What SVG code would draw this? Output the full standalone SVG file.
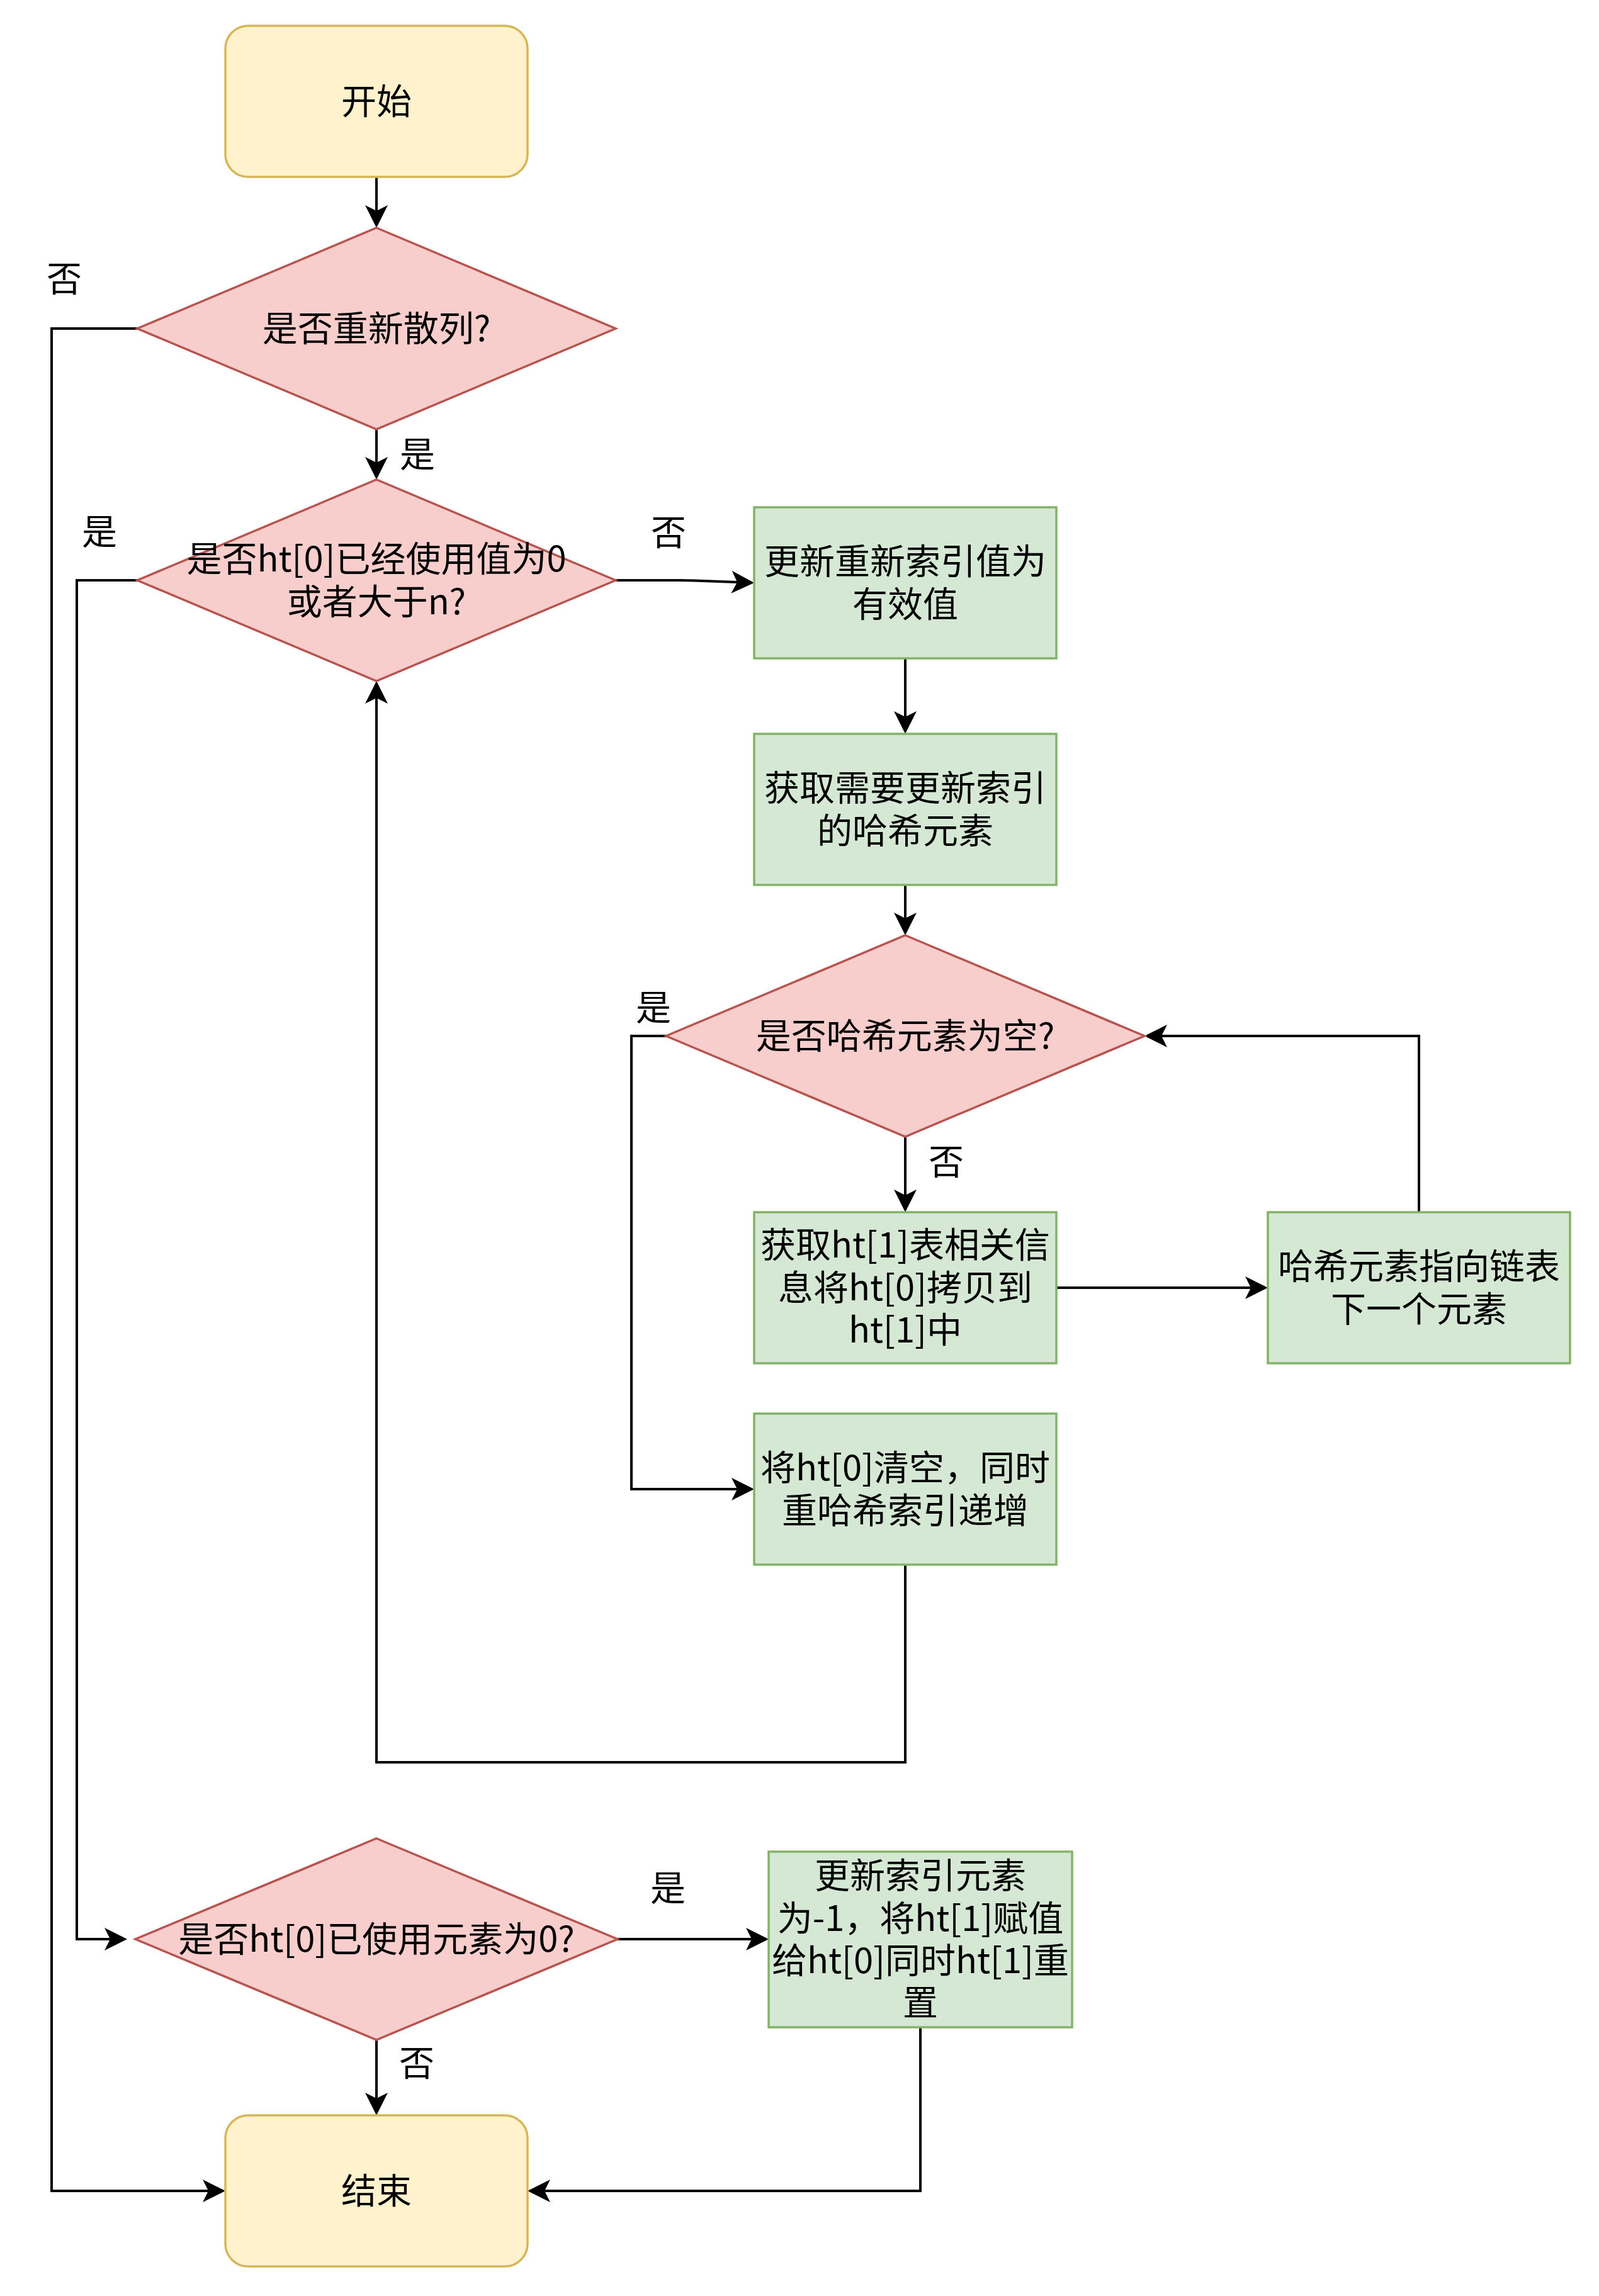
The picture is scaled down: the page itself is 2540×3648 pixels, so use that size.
<svg xmlns="http://www.w3.org/2000/svg" width="2540" height="3648" viewBox="0 0 2540 3648">
<style>
.term{fill:#fff2cc;stroke:#d6b656;stroke-width:3.5}
.dec{fill:#f8cecc;stroke:#b85450;stroke-width:3.5}
.proc{fill:#d5e8d4;stroke:#82b366;stroke-width:3.5}
.edge{fill:none;stroke:#000;stroke-width:4;stroke-linejoin:miter}
text{font-family:"Noto Sans CJK SC","Noto Sans",sans-serif;font-size:56px;fill:#000;text-anchor:middle;dominant-baseline:central}
</style>
<defs>
<marker id="arr" markerUnits="userSpaceOnUse" viewBox="-20 -20 44 40" refX="0" refY="0" markerWidth="44" markerHeight="40" orient="auto" overflow="visible">
<path d="M20,0 L-16,-18 L-7,0 L-16,18 Z" fill="#000"/>
</marker>
</defs>
<rect width="2540" height="3648" fill="#fff"/>
<g id="connectors">
<path class="edge" marker-end="url(#arr)" d="M598,281 L598,342"/>
<path class="edge" marker-end="url(#arr)" d="M598,682 L598,742"/>
<path class="edge" marker-end="url(#arr)" d="M218,522 L82,522 L82,3481 L338,3481"/>
<path class="edge" marker-end="url(#arr)" d="M218,922 L122,922 L122,3081 L182,3081"/>
<path class="edge" marker-end="url(#arr)" d="M978,922 L1080,922 Q1092,922 1104,922.6 L1178,925.2"/>
<path class="edge" marker-end="url(#arr)" d="M1438,1046 L1438,1146"/>
<path class="edge" marker-end="url(#arr)" d="M1438,1406 L1438,1466"/>
<path class="edge" marker-end="url(#arr)" d="M1438,1806 L1438,1906"/>
<path class="edge" marker-end="url(#arr)" d="M1058,1646 L1003,1646 L1003,2366 L1178,2366"/>
<path class="edge" marker-end="url(#arr)" d="M1678,2046 L1994,2046"/>
<path class="edge" marker-end="url(#arr)" d="M2254,1926 L2254,1646 L1838,1646"/>
<path class="edge" marker-end="url(#arr)" d="M1438,2486 L1438,2800 L598,2800 L598,1102"/>
<path class="edge" marker-end="url(#arr)" d="M981,3081 L1201,3081"/>
<path class="edge" marker-end="url(#arr)" d="M598,3241 L598,3341"/>
<path class="edge" marker-end="url(#arr)" d="M1462,3221 L1462,3481 L858,3481"/>
<text x="102" y="438">否</text>
<text x="663" y="717">是</text>
<text x="158" y="840">是</text>
<text x="1062" y="841">否</text>
<text x="1038" y="1596">是</text>
<text x="1503" y="1841">否</text>
<text x="1061" y="2995">是</text>
<text x="662" y="3273">否</text>
</g>
<g id="start">
<rect class="term" x="358" y="41" width="480" height="240" rx="36" ry="36"/>
<text x="598" y="156">开始</text>
</g>
<g id="d_rehash">
<polygon class="dec" points="598,362 978,522 598,682 218,522"/>
<text x="598" y="517">是否重新散列?</text>
</g>
<g id="d_used">
<polygon class="dec" points="598,762 978,922 598,1082 218,922"/>
<text x="598" y="883.4">是否ht[0]已经使用值为0<tspan x="598" dy="67.2">或者大于n?</tspan></text>
</g>
<g id="p_update_idx">
<rect class="proc" x="1198" y="806" width="480" height="240"/>
<text x="1438" y="887.4">更新重新索引值为<tspan x="1438" dy="67.2">有效值</tspan></text>
</g>
<g id="p_get_elem">
<rect class="proc" x="1198" y="1166" width="480" height="240"/>
<text x="1438" y="1247.4">获取需要更新索引<tspan x="1438" dy="67.2">的哈希元素</tspan></text>
</g>
<g id="d_empty">
<polygon class="dec" points="1438,1486 1818,1646 1438,1806 1058,1646"/>
<text x="1438" y="1641">是否哈希元素为空?</text>
</g>
<g id="p_copy">
<rect class="proc" x="1198" y="1926" width="480" height="240"/>
<text x="1438" y="1973.8">获取ht[1]表相关信<tspan x="1438" dy="67.2">息将ht[0]拷贝到</tspan><tspan x="1438" dy="67.2">ht[1]中</tspan></text>
</g>
<g id="p_next">
<rect class="proc" x="2014" y="1926" width="480" height="240"/>
<text x="2254" y="2007.4">哈希元素指向链表<tspan x="2254" dy="67.2">下一个元素</tspan></text>
</g>
<g id="p_clear">
<rect class="proc" x="1198" y="2246" width="480" height="240"/>
<text x="1438" y="2327.4">将ht[0]清空，同时<tspan x="1438" dy="67.2">重哈希索引递增</tspan></text>
</g>
<g id="d_zero">
<polygon class="dec" points="598,2921 981,3081 598,3241 215,3081"/>
<text x="598" y="3076">是否ht[0]已使用元素为0?</text>
</g>
<g id="p_reset">
<rect class="proc" x="1221" y="2942" width="482" height="279"/>
<text x="1462" y="2975.7">更新索引元素<tspan x="1462" dy="67.2">为-1，将ht[1]赋值</tspan><tspan x="1462" dy="67.2">给ht[0]同时ht[1]重</tspan><tspan x="1462" dy="67.2">置</tspan></text>
</g>
<g id="end">
<rect class="term" x="358" y="3361" width="480" height="240" rx="36" ry="36"/>
<text x="598" y="3476">结束</text>
</g>
</svg>
